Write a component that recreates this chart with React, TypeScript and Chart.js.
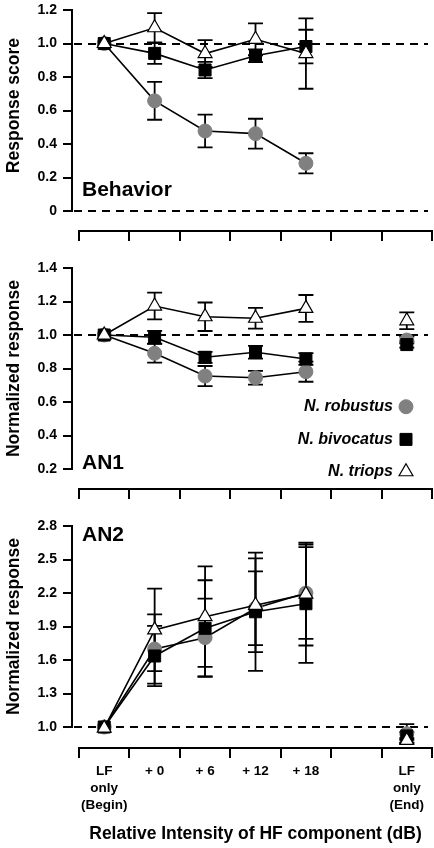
import React, { useEffect, useRef } from "react";
import { Chart, registerables } from "chart.js";
import { drawPoint } from "chart.js/helpers";

Chart.register(...registerables);
Chart.defaults.font.family = '"Liberation Sans", Arial, Helvetica, sans-serif';
Chart.defaults.color = "#000";

// ---------- data ----------
const categories: (string | string[])[] = [
  ["LF", "only", "(Begin)"],
  "+ 0",
  "+ 6",
  "+ 12",
  "+ 18",
  "",
  ["LF", "only", "(End)"],
];
const speciesNames = ["N. robustus", "N. bivocatus", "N. triops"];

// Behavior panel (response score)
const behaviorRobustus = [1.0, 0.658, 0.478, 0.462, 0.285, null, null];
const behaviorRobustusErr = [0, 0.113, 0.098, 0.089, 0.06, null, null];
const behaviorBivocatus = [1.0, 0.941, 0.842, 0.927, 0.982, null, null];
const behaviorBivocatusErr = [0, 0.062, 0.048, 0.038, 0.1, null, null];
const behaviorTriops = [1.0, 1.094, 0.94, 1.025, 0.94, null, null];
const behaviorTriopsErr = [0, 0.087, 0.08, 0.095, 0.21, null, null];
const behaviorTicks = [0, 0.2, 0.4, 0.6, 0.8, 1.0, 1.2];

// AN1 panel (normalized response)
const an1Robustus = [1.0, 0.891, 0.755, 0.745, 0.781, null, 0.97];
const an1RobustusErr = [0, 0.056, 0.06, 0.041, 0.06, null, 0.02];
const an1Bivocatus = [1.0, 0.987, 0.867, 0.897, 0.857, null, 0.943];
const an1BivocatusErr = [0, 0.038, 0.033, 0.038, 0.035, null, 0.018];
const an1Triops = [1.0, 1.173, 1.109, 1.1, 1.159, null, 1.085];
const an1TriopsErr = [0, 0.08, 0.085, 0.062, 0.08, null, 0.05];
const an1Ticks = [0.2, 0.4, 0.6, 0.8, 1.0, 1.2, 1.4];

// AN2 panel (normalized response)
const an2Robustus = [1.0, 1.698, 1.8, 2.063, 2.2, null, 0.94];
const an2RobustusErr = [0, 0.31, 0.35, 0.33, 0.41, null, 0.085];
const an2Bivocatus = [1.0, 1.636, 1.884, 2.032, 2.104, null, 0.92];
const an2BivocatusErr = [0, 0.27, 0.43, 0.53, 0.53, null, 0.035];
const an2Triops = [0.99, 1.87, 1.988, 2.09, 2.19, null, 0.88];
const an2TriopsErr = [0, 0.37, 0.45, 0.42, 0.46, null, 0.02];
const an2Ticks = [1.0, 1.3, 1.6, 1.9, 2.2, 2.5, 2.8];

// ---------- styles ----------
const FONT = '"Liberation Sans", Arial, Helvetica, sans-serif';
const seriesStyles = {
  robustus: { pointStyle: "circle", radius: 7, fill: "#808080", stroke: "#808080", bw: 1 },
  bivocatus: { pointStyle: "rect", radius: 8.5, fill: "#000", stroke: "#000", bw: 1 },
  triops: { pointStyle: "triangle", radius: 8, fill: "#fff", stroke: "#000", bw: 1.2 },
};

function makeDataset(label: string, data: (number | null)[], errors: (number | null)[], key: keyof typeof seriesStyles) {
  const s = seriesStyles[key];
  return {
    label,
    data,
    errors,
    borderColor: "#000",
    borderWidth: 1.6,
    backgroundColor: s.fill,
    pointStyle: s.pointStyle,
    pointRadius: s.radius,
    pointHoverRadius: s.radius,
    pointBackgroundColor: s.fill,
    pointBorderColor: s.stroke,
    pointBorderWidth: s.bw,
    tension: 0,
    spanGaps: false,
    fill: false,
    clip: false,
  };
}

const panelPlugin = {
  id: "panelDecor",
  beforeDatasetsDraw(chart: any) {
    const o = chart.options.plugins.panelDecor;
    const ctx = chart.ctx;
    const y = chart.scales.y;
    const area = chart.chartArea;
    const axisX = area.left - o.axisGap;
    // dashed reference lines
    ctx.save();
    ctx.strokeStyle = "#000";
    ctx.lineWidth = 1.8;
    ctx.setLineDash([8, 6]);
    for (const v of o.refLines) {
      const py = Math.round(y.getPixelForValue(v));
      ctx.beginPath();
      ctx.moveTo(axisX + 2, py);
      ctx.lineTo(area.right - 4, py);
      ctx.stroke();
    }
    ctx.restore();
    // error bars
    ctx.save();
    ctx.strokeStyle = "#000";
    ctx.lineWidth = 1.8;
    chart.data.datasets.forEach((ds: any, i: number) => {
      const meta = chart.getDatasetMeta(i);
      ds.data.forEach((v: number | null, j: number) => {
        const e = ds.errors[j];
        if (v === null || !e) return;
        const px = meta.data[j].x;
        const y1 = y.getPixelForValue(v + e);
        const y2 = y.getPixelForValue(v - e);
        ctx.beginPath();
        ctx.moveTo(px, y1);
        ctx.lineTo(px, y2);
        ctx.moveTo(px - 7.5, y1);
        ctx.lineTo(px + 7.5, y1);
        ctx.moveTo(px - 7.5, y2);
        ctx.lineTo(px + 7.5, y2);
        ctx.stroke();
      });
    });
    ctx.restore();
  },
  afterDraw(chart: any) {
    const o = chart.options.plugins.panelDecor;
    const ctx = chart.ctx;
    const y = chart.scales.y;
    const area = chart.chartArea;
    const axisX = area.left - o.axisGap;
    const tickVals: number[] = o.ticks;
    const top = y.getPixelForValue(Math.max(...tickVals));
    const bottom = y.getPixelForValue(Math.min(...tickVals));
    ctx.save();
    ctx.strokeStyle = "#000";
    ctx.lineWidth = 2;
    ctx.beginPath();
    ctx.moveTo(axisX, top - 1);
    ctx.lineTo(axisX, bottom + 1);
    for (const v of tickVals) {
      const py = Math.round(y.getPixelForValue(v));
      ctx.moveTo(axisX - 9, py);
      ctx.lineTo(axisX, py);
    }
    ctx.stroke();
    // y title
    ctx.fillStyle = "#000";
    ctx.font = `bold 17.5px ${FONT}`;
    ctx.textAlign = "center";
    ctx.textBaseline = "middle";
    ctx.translate(o.titleX, (top + bottom) / 2 + o.titleShift);
    ctx.rotate(-Math.PI / 2);
    ctx.fillText(o.yTitle, 0, 0);
    ctx.restore();
    // panel label
    ctx.save();
    ctx.fillStyle = "#000";
    ctx.font = `bold 21px ${FONT}`;
    ctx.textAlign = "left";
    ctx.textBaseline = "middle";
    ctx.fillText(o.label, area.left + 3, y.getPixelForValue(o.labelValue));
    ctx.restore();
    // legend
    if (o.legend) {
      const order = [2, 1, 0]; // robustus, bivocatus, triops
      const rowVals: number[] = o.legendRows;
      ctx.save();
      ctx.font = `italic bold 16px ${FONT}`;
      ctx.textAlign = "right";
      ctx.textBaseline = "middle";
      order.forEach((di, r) => {
        const ds: any = chart.data.datasets[di];
        const py = y.getPixelForValue(rowVals[r]);
        const mx = area.right - 26;
        ctx.fillStyle = "#000";
        ctx.fillText(ds.label, mx - 13, py);
        ctx.fillStyle = ds.pointBackgroundColor;
        ctx.strokeStyle = ds.pointBorderColor;
        ctx.lineWidth = ds.pointBorderWidth;
        drawPoint(ctx, { pointStyle: ds.pointStyle, radius: ds.pointRadius, rotation: 0, borderWidth: ds.pointBorderWidth }, mx, py);
      });
      ctx.restore();
    }
  },
};

type PanelCfg = {
  height: number;
  padTop: number;
  xHeight: number;
  min: number;
  max: number;
  ticks: number[];
  fmt: (v: number) => string;
  series: (number | null)[][];
  showXLabels: boolean;
  yTitle: string;
  label: string;
  labelValue: number;
  legend: boolean;
  legendRows?: number[];
  titleShift: number;
};

function buildConfig(c: PanelCfg): any {
  const [rob, robE, biv, bivE, tri, triE] = c.series;
  return {
    type: "line",
    data: {
      labels: categories,
      datasets: [
        makeDataset(speciesNames[2], tri, triE, "triops"),
        makeDataset(speciesNames[1], biv, bivE, "bivocatus"),
        makeDataset(speciesNames[0], rob, robE, "robustus"),
      ],
    },
    options: {
      responsive: false,
      maintainAspectRatio: false,
      animation: false,
      events: [],
      layout: { autoPadding: false, padding: { top: c.padTop, right: 2, left: 0, bottom: 0 } },
      scales: {
        x: {
          type: "category",
          offset: true,
          grid: {
            display: true,
            drawOnChartArea: false,
            drawTicks: true,
            tickLength: 10,
            offset: true,
            color: "#000",
            lineWidth: 2,
          },
          border: { display: true, color: "#000", width: 2 },
          ticks: {
            display: c.showXLabels,
            autoSkip: false,
            maxRotation: 0,
            minRotation: 0,
            padding: 5,
            color: "#000",
            font: { family: FONT, size: 13.5, weight: "bold", lineHeight: 1.25 },
          },
          title: {
            display: c.showXLabels,
            text: "Relative Intensity of HF component (dB)",
            color: "#000",
            font: { family: FONT, size: 17.5, weight: "bold" },
            padding: { top: 0, bottom: 3 },
          },
          afterFit: (s: any) => {
            s.height = c.xHeight;
            s.paddingLeft = 0;
            s.paddingRight = 0;
          },
        },
        y: {
          type: "linear",
          min: c.min,
          max: c.max,
          grid: { display: false, drawTicks: false },
          border: { display: false },
          afterBuildTicks: (s: any) => {
            s.ticks = c.ticks.map((v) => ({ value: v }));
          },
          afterFit: (s: any) => {
            s.width = 79;
            s.paddingTop = 0;
            s.paddingBottom = 0;
          },
          ticks: {
            padding: 22,
            color: "#000",
            font: { family: FONT, size: 14, weight: "bold" },
            callback: (v: any) => c.fmt(Number(v)),
          },
        },
      },
      plugins: {
        legend: { display: false },
        tooltip: { enabled: false },
        panelDecor: {
          axisGap: 7,
          refLines: c.label === "Behavior" ? [1.0, 0] : [1.0],
          ticks: c.ticks,
          yTitle: c.yTitle,
          titleX: 14,
          titleShift: c.titleShift,
          label: c.label,
          labelValue: c.labelValue,
          legend: c.legend,
          legendRows: c.legendRows || [],
        },
      },
    },
    plugins: [panelPlugin],
  };
}

const panels: { top: number; cfg: PanelCfg }[] = [
  {
    top: 0,
    cfg: {
      height: 250,
      padTop: 10,
      xHeight: 19,
      min: -0.119,
      max: 1.2,
      ticks: behaviorTicks,
      fmt: (v) => (v === 0 ? "0" : v.toFixed(1)),
      series: [behaviorRobustus, behaviorRobustusErr, behaviorBivocatus, behaviorBivocatusErr, behaviorTriops, behaviorTriopsErr],
      showXLabels: false,
      yTitle: "Response score",
      label: "Behavior",
      labelValue: 0.125,
      legend: false,
      titleShift: -5,
    },
  },
  {
    top: 250,
    cfg: {
      height: 260,
      padTop: 18,
      xHeight: 21,
      min: 0.081,
      max: 1.4,
      ticks: an1Ticks,
      fmt: (v) => v.toFixed(1),
      series: [an1Robustus, an1RobustusErr, an1Bivocatus, an1BivocatusErr, an1Triops, an1TriopsErr],
      showXLabels: false,
      yTitle: "Normalized response",
      label: "AN1",
      labelValue: 0.236,
      legend: true,
      legendRows: [0.572, 0.377, 0.184],
      titleShift: 0,
    },
  },
  {
    top: 510,
    cfg: {
      height: 338,
      padTop: 16,
      xHeight: 100,
      min: 0.812,
      max: 2.8,
      ticks: an2Ticks,
      fmt: (v) => v.toFixed(1),
      series: [an2Robustus, an2RobustusErr, an2Bivocatus, an2BivocatusErr, an2Triops, an2TriopsErr],
      showXLabels: true,
      yTitle: "Normalized response",
      label: "AN2",
      labelValue: 2.72,
      legend: false,
      titleShift: 0,
    },
  },
];

function Panel({ top, cfg }: { top: number; cfg: PanelCfg }) {
  const ref = useRef<HTMLCanvasElement>(null);
  useEffect(() => {
    if (!ref.current) return;
    const chart = new Chart(ref.current, buildConfig(cfg));
    return () => chart.destroy();
  }, []);
  return (
    <canvas
      ref={ref}
      width={434}
      height={cfg.height}
      style={{ position: "absolute", left: 0, top, width: 434, height: cfg.height, display: "block" }}
    />
  );
}

export default function App() {
  return (
    <div style={{ position: "absolute", left: 0, top: 0, width: 434, height: 848, background: "#fff", overflow: "hidden" }}>
      {panels.map((p, i) => (
        <Panel key={i} top={p.top} cfg={p.cfg} />
      ))}
    </div>
  );
}
